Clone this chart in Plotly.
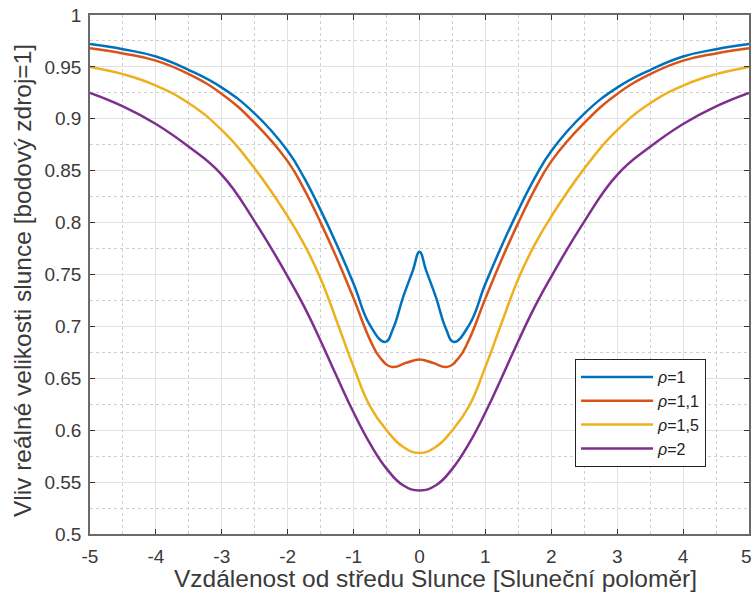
import plotly.graph_objects as go

# ---- data ----
x_rho1 = [-5, -4.5, -4, -3.5, -3, -2.5, -2, -1.75, -1.5, -1.25, -1, -0.75, -0.52, -0.4, -0.25, -0.1, 0,
          0.1, 0.25, 0.4, 0.52, 0.75, 1, 1.25, 1.5, 1.75, 2, 2.5, 3, 3.5, 4, 4.5, 5]
y_rho1 = [0.972, 0.967, 0.960, 0.947, 0.930, 0.905, 0.869, 0.843, 0.812, 0.778, 0.741, 0.701, 0.685, 0.698, 0.728, 0.754, 0.772,
          0.754, 0.728, 0.698, 0.685, 0.701, 0.741, 0.778, 0.812, 0.843, 0.869, 0.905, 0.930, 0.947, 0.960, 0.967, 0.972]

x_rho11 = [-5, -4.5, -4, -3.5, -3, -2.5, -2, -1.75, -1.5, -1.25, -1, -0.75, -0.6, -0.42, -0.2, 0,
           0.2, 0.42, 0.6, 0.75, 1, 1.25, 1.5, 1.75, 2, 2.5, 3, 3.5, 4, 4.5, 5]
y_rho11 = [0.968, 0.963, 0.956, 0.943, 0.924, 0.896, 0.859, 0.832, 0.800, 0.765, 0.727, 0.687, 0.670, 0.661, 0.665, 0.668,
           0.665, 0.661, 0.670, 0.687, 0.727, 0.765, 0.800, 0.832, 0.859, 0.896, 0.924, 0.943, 0.956, 0.963, 0.968]

x_rho15 = [-5, -4.5, -4, -3.5, -3, -2.5, -2, -1.75, -1.5, -1.25, -1, -0.75, -0.5, -0.25, 0,
           0.25, 0.5, 0.75, 1, 1.25, 1.5, 1.75, 2, 2.5, 3, 3.5, 4, 4.5, 5]
y_rho15 = [0.950, 0.943, 0.932, 0.915, 0.889, 0.852, 0.806, 0.779, 0.746, 0.704, 0.661, 0.623, 0.600, 0.584, 0.578,
           0.584, 0.600, 0.623, 0.661, 0.704, 0.746, 0.779, 0.806, 0.852, 0.889, 0.915, 0.932, 0.943, 0.950]

x_rho2 = [-5, -4.5, -4, -3.5, -3, -2.5, -2, -1.75, -1.5, -1.25, -1, -0.75, -0.5, -0.25, 0,
          0.25, 0.5, 0.75, 1, 1.25, 1.5, 1.75, 2, 2.5, 3, 3.5, 4, 4.5, 5]
y_rho2 = [0.925, 0.912, 0.895, 0.873, 0.846, 0.801, 0.748, 0.719, 0.686, 0.651, 0.617, 0.587, 0.563, 0.547, 0.542,
          0.547, 0.563, 0.587, 0.617, 0.651, 0.686, 0.719, 0.748, 0.801, 0.846, 0.873, 0.895, 0.912, 0.925]

series_names = ["<i>ρ</i>=1", "<i>ρ</i>=1,1", "<i>ρ</i>=1,5", "<i>ρ</i>=2"]
series_colors = ["#0072BD", "#D95319", "#EDB120", "#7E2F8E"]

x_tickvals = [-5, -4, -3, -2, -1, 0, 1, 2, 3, 4, 5]
x_ticktext = ["-5", "-4", "-3", "-2", "-1", "0", "1", "2", "3", "4", "5\u00a0"]
y_tickvals = [0.5, 0.55, 0.6, 0.65, 0.7, 0.75, 0.8, 0.85, 0.9, 0.95, 1.0]
y_ticktext = ["0.5", "0.55", "0.6", "0.65", "0.7", "0.75", "0.8", "0.85", "0.9", "0.95", "1"]

x_title = "Vzdálenost od středu Slunce [Sluneční poloměr]"
y_title = "Vliv reálné velikosti slunce [bodový zdroj=1]"

FONT = "Liberation Sans, Arial, sans-serif"
TITLE_COLOR = "#3a3a3a"

fig = go.Figure()
for xs, ys, name, col in zip([x_rho1, x_rho11, x_rho15, x_rho2],
                             [y_rho1, y_rho11, y_rho15, y_rho2],
                             series_names, series_colors):
    fig.add_trace(go.Scatter(x=xs, y=ys, mode="lines", name=name,
                             line=dict(color=col, width=2.5, shape="spline", smoothing=1.3)))

axis_common = dict(
    showline=True, linecolor="#6a6a6a", linewidth=1.5, mirror="ticks",
    ticks="inside", ticklen=5, tickcolor="#333333", tickwidth=1,
    showgrid=True, gridcolor="#e2e2e2", gridwidth=1,
    zeroline=False, automargin=False, ticklabeloverflow="allow",
    tickfont=dict(family=FONT, size=19, color="#3a3a3a"),
)

fig.update_xaxes(range=[-5, 5], tickvals=x_tickvals, ticktext=x_ticktext,
                 minor=dict(dtick=0.5, showgrid=True, gridcolor="#cfcfcf", griddash="dot", ticks=""),
                 ticklabelstandoff=4,
                 **axis_common)
fig.update_yaxes(range=[0.5, 1.0], tickvals=y_tickvals, ticktext=y_ticktext,
                 minor=dict(dtick=0.025, showgrid=True, gridcolor="#cfcfcf", griddash="dot", ticks=""),
                 ticklabelstandoff=3,
                 **axis_common)

# axis titles placed as annotations (matching reference positions)
fig.add_annotation(text=x_title, xref="paper", yref="paper", x=0.524, y=-0.0848,
                   xanchor="center", yanchor="middle", showarrow=False,
                   font=dict(family=FONT, size=24.5, color=TITLE_COLOR))
fig.add_annotation(text=y_title, xref="paper", yref="paper", x=-0.1022, y=0.4885,
                   xanchor="center", yanchor="middle", showarrow=False, textangle=-90,
                   font=dict(family=FONT, size=24.5, color=TITLE_COLOR))

fig.update_layout(
    width=752, height=597,
    margin=dict(l=90, r=3, t=15, b=63),
    paper_bgcolor="white", plot_bgcolor="white",
    showlegend=True,
    legend=dict(x=0.736, y=0.337, xanchor="left", yanchor="top",
                bgcolor="white", bordercolor="#222222", borderwidth=1,
                font=dict(family=FONT, size=16, color="#222222"),
                itemwidth=72, tracegroupgap=0),
)

fig.write_html("out.html", config={"displayModeBar": False},
               post_script="document.body.style.margin='0';document.body.style.overflow='hidden';")
